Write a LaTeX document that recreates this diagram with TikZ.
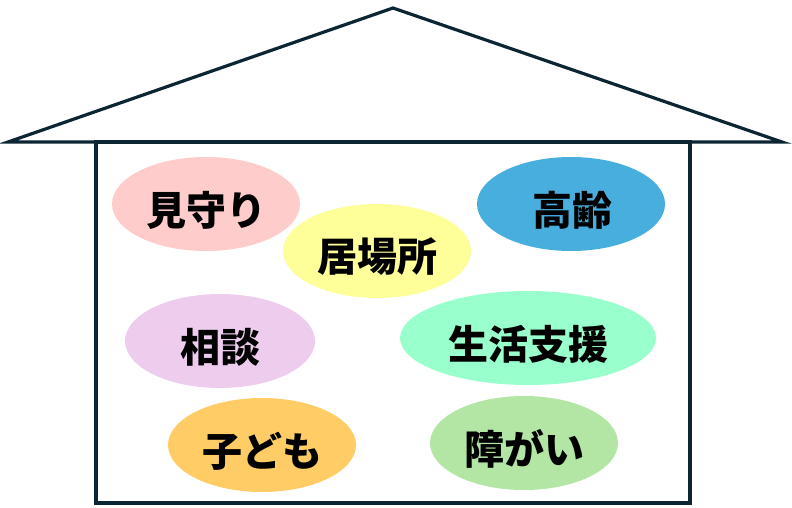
\documentclass[tikz,border=0pt]{standalone}
\usepackage{fontspec}
\newfontfamily\jp{Noto Sans CJK JP}
\definecolor{navy}{HTML}{0B2533}
\definecolor{cpink}{HTML}{FFCCCC}
\definecolor{cyellow}{HTML}{FFFF99}
\definecolor{cblue}{HTML}{47AEDE}
\definecolor{cmint}{HTML}{99FFCC}
\definecolor{clav}{HTML}{EECCEE}
\definecolor{corange}{HTML}{FFCC66}
\definecolor{cgreen}{HTML}{B3E5A5}
\begin{document}
\begin{tikzpicture}[x=1pt,y=-1pt,
  lbl/.style={font=\jp\bfseries\fontsize{40}{40}\selectfont, text=black}]
\useasboundingbox (0,0) rectangle (792,507);
\draw[navy, line width=3.2pt, line join=miter] (8,142) -- (393,8) -- (782,142) -- cycle;
\draw[navy, line width=3.6pt] (96,142) rectangle (690,503);
\fill[cpink] (206,204) ellipse [x radius=94, y radius=47];
\fill[cyellow] (377,251) ellipse [x radius=94, y radius=47];
\fill[cblue] (571,204) ellipse [x radius=94, y radius=47];
\fill[cmint] (528,338) ellipse [x radius=128, y radius=47];
\fill[clav] (220,341) ellipse [x radius=95, y radius=47];
\fill[corange] (262,445) ellipse [x radius=94, y radius=47];
\fill[cgreen] (524,443) ellipse [x radius=94, y radius=47];
\node[lbl] (a) at (206,210) {見守り};
\node[lbl] (b) at (377,257) {居場所};
\node[lbl] (c) at (572,210) {高齢};
\node[lbl] (d) at (528,344) {生活支援};
\node[lbl] (e) at (220,347) {相談};
\node[lbl] (f) at (262,451) {子ども};
\node[lbl] (g) at (524,449) {障がい};
\end{tikzpicture}
\end{document}
